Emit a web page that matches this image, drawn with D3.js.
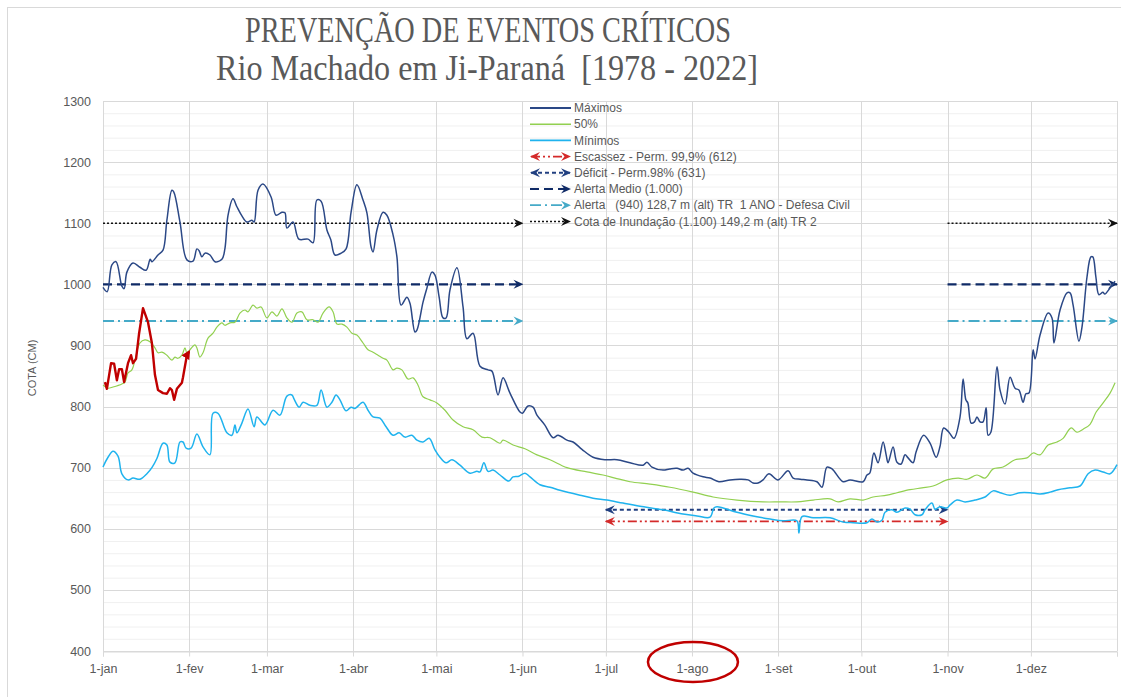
<!DOCTYPE html>
<html><head><meta charset="utf-8">
<script src="https://cdn.jsdelivr.net/npm/d3@7"></script>
<style>
html,body{margin:0;padding:0;background:#fff;}
svg{display:block;font-family:"Liberation Sans",Arial,sans-serif;}
text{white-space:pre;}
</style></head>
<body><svg id="c" width="1121" height="697"></svg>
<script>
// ---------- DATA (day of year, cota in cm) ----------
const titleLines = ["PREVENÇÃO DE EVENTOS CRÍTICOS", "Rio Machado em Ji-Paraná  [1978 - 2022]"];
const yLabel = "COTA (CM)";
const monthDays = [0,31,59,90,120,151,181,212,243,273,304,334];
const monthLabels = ["1-jan","1-fev","1-mar","1-abr","1-mai","1-jun","1-jul","1-ago","1-set","1-out","1-nov","1-dez"];
const yTicks = [400,500,600,700,800,900,1000,1100,1200,1300];

const maximos = [[0,995],[1.5,988],[3.2,1032],[4.7,1037],[6.8,997],[7.6,993],[8.6,1020],[10.8,1035],[13.3,1028],[15.5,1023],[17,1041],[17.6,1037],[19.8,1048],[21.6,1056],[23,1105],[24.8,1154],[25.5,1151],[27.7,1102],[30.2,1040],[32.4,1038],[33.8,1058],[34.6,1055],[35.6,1045],[36.7,1051],[38.5,1048],[40.3,1037],[42.8,1041],[43.9,1059],[45,1113],[46.8,1140],[48.2,1127],[50,1112],[51.8,1102],[53.6,1105],[54.4,1102],[55.8,1154],[57.6,1164],[60.5,1143],[62.3,1113],[64.4,1118],[65.5,1117],[66.2,1092],[68.4,1102],[70.5,1074],[73.8,1074],[75.6,1068],[77,1138],[78.5,1136],[80.6,1089],[82,1073],[83.5,1048],[85.7,1051],[87.5,1058],[89.3,1118],[91.4,1163],[93.6,1138],[95,1117],[96.5,1061],[97.2,1053],[98.6,1089],[100.8,1118],[102.2,1113],[104.4,1081],[105.8,1045],[107.3,966],[109.4,979],[110.5,969],[112.3,922],[113,925],[115.2,971],[116.6,994],[118.4,1020],[119.5,1015],[121,979],[122.4,945],[123.5,945],[124.9,991],[127.4,1027],[129.6,963],[131,911],[133.2,920],[135.7,866],[138.6,860],[140,858],[142.2,819],[144,847],[146.5,822],[150.1,791],[151,789],[153,801],[154.8,799],[156.2,786],[159,770],[162,749],[163.8,753],[167,745],[169.2,742],[172.4,730],[176.4,717],[180.7,713],[185,713],[189.7,708],[194.4,704],[195.8,709],[197.6,701],[201.6,696],[204,698],[206.6,699],[208.8,696],[210.6,699],[212.4,691],[216,685],[218.5,683],[221.7,677],[225.7,680],[229.3,681],[232.2,680],[234,675],[235.8,675],[237.6,680],[239.7,690],[243,680],[246.6,695],[248.4,683],[251,681],[253.4,680],[257,677],[258.8,668],[260.6,701],[262.4,698],[266.4,677],[268.9,680],[273.6,677],[275,688],[276,691],[277.5,724],[279,708],[280.8,742],[281.9,721],[282.6,708],[284.4,734],[285.8,709],[287.3,706],[288.7,721],[289.8,716],[291.6,708],[292.7,726],[295.4,753],[297.7,740],[299.9,717],[301.3,735],[302.6,765],[304.5,758],[306.3,748],[308.5,783],[309.6,845],[310.6,811],[311.3,806],[312.5,773],[313.7,775],[314.6,783],[315.7,775],[316.8,775],[317.9,798],[318.6,753],[319.6,758],[321.8,865],[322.9,827],[324.7,804],[326.5,848],[328.3,830],[329.7,827],[331.2,807],[332.2,821],[333.3,822],[334.8,893],[335.5,878],[337.3,917],[340.2,953],[341.6,945],[342.3,904],[344.5,958],[347,986],[348.1,986],[349.2,966],[351.3,907],[352.4,930],[354.2,1012],[355.6,1045],[356.3,1045],[357.4,1012],[358.5,983],[359.9,987],[360.6,984],[362.5,994],[364.3,1005]];

const mediana = [[0,835],[1.8,830],[3.6,832],[6.8,837],[7.9,840],[9,855],[10.4,860],[11.5,876],[13.3,904],[15.1,909],[16.9,906],[18.7,896],[19.8,888],[21.2,889],[23,884],[24.8,876],[25.9,881],[27,879],[28.4,884],[29.5,896],[30.2,888],[31.3,893],[33.1,901],[33.8,896],[34.9,881],[36,888],[37.8,912],[39.6,920],[41,930],[42.8,937],[43.9,933],[45.7,937],[47.5,938],[49.3,953],[51.1,958],[52.2,955],[54,966],[55.4,961],[56.9,963],[59,945],[60.8,955],[62.6,948],[64.4,960],[66.2,945],[68,938],[69.8,953],[71.6,955],[73.4,942],[75.6,942],[77.4,938],[79.2,953],[81.4,963],[82.8,955],[84.2,935],[86,935],[87.8,930],[89.6,920],[91.4,917],[93.6,904],[95.4,893],[97.2,889],[99,884],[100.8,879],[102.2,876],[104.4,860],[105.8,863],[107.6,860],[109.8,845],[111.6,847],[113.4,835],[115.2,816],[117.7,811],[120.2,806],[123.1,794],[126,778],[129.6,767],[133.2,762],[136.4,750],[139.3,749],[142.9,740],[144,745],[147.6,737],[151.9,731],[156.2,721],[160.9,713],[167,700],[174.2,693],[180,688],[184.3,683],[189.7,677],[196.9,673],[204.1,668],[212.4,660],[219.6,652],[228.2,647],[237.6,644],[243.7,644],[249.8,644],[255.6,647],[261.7,649],[264.6,644],[268.9,649],[273.6,647],[277.2,652],[282.2,655],[285.8,659],[290.5,664],[294.8,667],[298.8,670],[303.8,680],[307.8,683],[311,681],[314.6,688],[317.5,683],[320.4,698],[324,701],[328.3,713],[332.6,716],[334.8,724],[337.3,721],[340.2,737],[343.4,742],[345.6,748],[348.5,765],[350.6,758],[352.8,763],[355.3,771],[357.5,791],[360,806],[362.5,822],[364.3,839]];

const minimos = [[0,701],[1.8,717],[3.6,727],[5.4,719],[6.8,690],[9,680],[10.8,683],[13.3,681],[15.8,690],[17.6,700],[19.4,715],[21.6,740],[23,737],[24.1,709],[25.9,708],[27.7,742],[28.8,742],[29.9,732],[31.7,732],[33.8,755],[36,734],[38.5,721],[39.6,789],[41.4,789],[44.6,757],[46.4,753],[47.5,770],[48.2,757],[50,773],[52.2,796],[54.4,767],[55.4,783],[58.3,770],[61.2,794],[63.7,786],[66.2,817],[68,819],[68.8,812],[70.6,799],[72,807],[74.5,802],[77,802],[78.5,827],[80.6,799],[82.4,807],[83.9,819],[85.3,811],[87.5,793],[89.3,799],[90.7,797],[93.6,807],[95.4,794],[97.2,783],[99.7,781],[101.9,767],[104.4,753],[106.6,757],[108.7,750],[111.2,753],[113,745],[115.2,742],[117.4,748],[119.5,729],[121.3,717],[123.5,708],[125.6,713],[128.5,704],[132.1,691],[134.6,694],[135.7,693],[137.1,708],[138.6,694],[140.4,696],[142.9,688],[146.1,678],[147.6,685],[149.7,686],[151.9,691],[153.7,685],[157.3,672],[160.9,668],[164.5,663],[168.1,659],[171.7,655],[176.4,650],[181.4,647],[187.2,642],[193.3,637],[201.6,631],[208.8,624],[213.8,621],[218.5,619],[219.9,634],[221,636],[223.2,634],[228.2,627],[234,621],[240.1,616],[244.8,613],[249.8,613],[250.5,593],[251.6,620],[255.6,618],[261.7,618],[266.4,611],[270,610],[275,610],[276.8,616],[278.6,611],[280.4,614],[281.5,627],[284,631],[285.8,627],[288.7,634],[290.5,632],[292.3,623],[294.8,623],[295.9,631],[298.4,642],[299.5,632],[301.3,636],[303.8,634],[304.9,639],[307.4,647],[310.3,644],[313.9,647],[317.5,652],[320.4,662],[322.9,659],[326.5,655],[330.1,659],[333.7,659],[337.3,657],[340.9,660],[343.8,664],[348.1,667],[351.7,670],[354.6,690],[357.1,696],[360,693],[362.5,690],[365,705]];

const anoAtual = [[0.7,840],[1.4,829],[2.9,871],[4,870],[5,843],[5.8,861],[6.8,861],[7.6,840],[9,871],[10.1,884],[10.8,871],[11.9,878],[13,920],[14.4,961],[16.2,938],[17.6,904],[18.7,852],[19.8,827],[21.6,822],[23,821],[24.1,830],[24.8,827],[25.6,811],[26.6,829],[28.4,839],[28.8,848],[30.2,884],[31,890]];

// reference levels
const refNames = ["Escassez - Perm. 99,9% (612)","Déficit - Perm.98% (631)","Alerta Medio (1.000)","Alerta   (940) 128,7 m (alt) TR  1 ANO - Defesa Civil","Cota de Inundação (1.100) 149,2 m (alt) TR 2"];
const refValues = [612, 631, 1000, 940, 1100];
const refSpans = [[[181,304]],[[181,304]],[[0,151],[304,365]],[[0,151],[304,365]],[[0,151],[304,365]]];
const refBoth = [true, true, false, false, false];
const seriesNames = ["Máximos","50%","Mínimos"];

// ---------- STYLES ----------
const seriesColors = ["#2b4886","#92d050","#1fb3ee"];
const seriesWidths = [1.5,1.2,1.5];
const refColors = ["#d42a2a","#203f80","#0f2a66","#45aac8","#111111"];
const refDash = ["9,3,2,3,2,3","4,3","9,5","11,4,2,4","2,2"];
const refWidths = [1.8,2,2.2,1.8,1.5];

const svg = d3.select("#c");
const x = d3.scaleLinear().domain([0,365]).range([103,1117]);
const y = d3.scaleLinear().domain([400,1300]).range([651,101]);

// border
svg.append("rect").attr("x",7.5).attr("y",7.5).attr("width",1130).attr("height",700)
  .attr("fill","none").attr("stroke","#d9d9d9");

// markers
const defs = svg.append("defs");
function marker(id,color){
  defs.append("marker").attr("id",id).attr("viewBox","0 0 10 10").attr("refX",9).attr("refY",5)
    .attr("markerWidth",10).attr("markerHeight",10).attr("markerUnits","userSpaceOnUse")
    .attr("orient","auto-start-reverse")
    .append("path").attr("d","M0,0.5 L10,5 L0,9.5 L3.5,5 Z").attr("fill",color);
}
refColors.forEach((c,i)=>marker("m"+i,c));
defs.append("marker").attr("id","mred").attr("viewBox","0 0 10 10").attr("refX",8).attr("refY",5)
  .attr("markerWidth",9).attr("markerHeight",9).attr("markerUnits","userSpaceOnUse").attr("orient","auto")
  .append("path").attr("d","M0,0 L10,5 L0,10 Z").attr("fill","#c00000");

// grid
const g = svg.append("g");
g.selectAll(".minor").data(d3.range(420,1300,20).filter(v=>v%100!==0)).join("line")
  .attr("x1",x(0)).attr("x2",x(365)).attr("y1",d=>y(d)+0.5).attr("y2",d=>y(d)+0.5)
  .attr("stroke","#f0f0f0").attr("stroke-width",1);
g.selectAll(".major").data(yTicks).join("line")
  .attr("x1",x(0)).attr("x2",x(365)).attr("y1",d=>Math.round(y(d))+0.5).attr("y2",d=>Math.round(y(d))+0.5)
  .attr("stroke","#d9d9d9").attr("stroke-width",1);
g.selectAll(".vg").data(monthDays.concat([365])).join("line")
  .attr("x1",d=>Math.round(x(d))+0.5).attr("x2",d=>Math.round(x(d))+0.5).attr("y1",y(1300)).attr("y2",y(400))
  .attr("stroke","#d9d9d9").attr("stroke-width",1);

// axes
const xAxis = svg.append("g").attr("transform","translate(0,"+(Math.round(y(400))+0.5)+")")
  .call(d3.axisBottom(x).tickValues(monthDays.concat([365])).tickFormat((d,i)=>monthLabels[i]||"").tickSize(5).tickPadding(8));
xAxis.select(".domain").attr("stroke","#d9d9d9");
xAxis.selectAll(".tick line").attr("stroke","#d9d9d9");
xAxis.selectAll(".tick text").attr("fill","#595959").style("font-size","12.5px").style("font-family","Liberation Sans, Arial, sans-serif");

const yAxis = svg.append("g").attr("transform","translate("+x(0)+",0)")
  .call(d3.axisLeft(y).tickValues(yTicks).tickFormat(d3.format("d")).tickSize(0).tickPadding(12));
yAxis.select(".domain").remove();
yAxis.selectAll(".tick text").attr("fill","#595959").style("font-size","12.5px").style("font-family","Liberation Sans, Arial, sans-serif");

svg.append("text").attr("transform","translate(36,368) rotate(-90)").attr("text-anchor","middle")
  .attr("fill","#595959").style("font-size","11px").text(yLabel);

// reference lines
refValues.forEach((v,i)=>{
  refSpans[i].forEach(sp=>{
    svg.append("line").attr("x1",x(sp[0])).attr("x2",x(sp[1])).attr("y1",y(v)).attr("y2",y(v))
      .attr("stroke",refColors[i]).attr("stroke-width",refWidths[i]).attr("stroke-dasharray",refDash[i])
      .attr("marker-end","url(#m"+i+")")
      .attr("marker-start",refBoth[i]?"url(#m"+i+")":null);
  });
});

// series
const line = d3.line().x(d=>x(d[0])).y(d=>y(d[1])).curve(d3.curveCatmullRom.alpha(0.5));
[mediana, minimos, maximos].forEach((s,k)=>{
  const idx = [1,2,0][k];
  svg.append("path").datum(s).attr("d",line).attr("fill","none")
    .attr("stroke",seriesColors[idx]).attr("stroke-width",seriesWidths[idx]).attr("stroke-linejoin","round");
});
svg.append("path").datum(anoAtual).attr("d",d3.line().x(d=>x(d[0])).y(d=>y(d[1])))
  .attr("fill","none").attr("stroke","#c00000").attr("stroke-width",2.4).attr("stroke-linejoin","round")
  .attr("marker-end","url(#mred)");

// legend
const lg = svg.append("g");
const rowY = i => 108 + i*16.2;
seriesNames.forEach((n,i)=>{
  lg.append("line").attr("x1",530).attr("x2",571).attr("y1",rowY(i)).attr("y2",rowY(i))
    .attr("stroke",seriesColors[i]).attr("stroke-width",seriesWidths[i]+0.3);
  lg.append("text").attr("x",574).attr("y",rowY(i)).attr("dy","0.35em").attr("fill","#595959")
    .style("font-size","12px").text(n);
});
refNames.forEach((n,i)=>{
  const yy = rowY(i+3);
  lg.append("line").attr("x1",refBoth[i]?531:530).attr("x2",570).attr("y1",yy).attr("y2",yy)
    .attr("stroke",refColors[i]).attr("stroke-width",refWidths[i]).attr("stroke-dasharray",refDash[i])
    .attr("marker-end","url(#m"+i+")").attr("marker-start",refBoth[i]?"url(#m"+i+")":null);
  lg.append("text").attr("x",574).attr("y",yy).attr("dy","0.35em").attr("fill","#595959")
    .style("font-size","12px").text(n);
});

// title
svg.append("text").attr("x",488).attr("y",42).attr("text-anchor","middle").attr("fill","#595959")
  .style("font-family","Liberation Serif, Times New Roman, serif").style("font-size","35px")
  .attr("textLength",486).attr("lengthAdjust","spacingAndGlyphs").text(titleLines[0]);
svg.append("text").attr("x",487).attr("y",80).attr("text-anchor","middle").attr("fill","#595959")
  .style("font-family","Liberation Serif, Times New Roman, serif").style("font-size","35px")
  .attr("textLength",542).attr("lengthAdjust","spacingAndGlyphs").text(titleLines[1]);

// highlight ellipse around 1-ago
svg.append("ellipse").attr("cx",x(monthDays[7])+1).attr("cy",662).attr("rx",45).attr("ry",20)
  .attr("fill","none").attr("stroke","#c00000").attr("stroke-width",2.5);
</script></body></html>
